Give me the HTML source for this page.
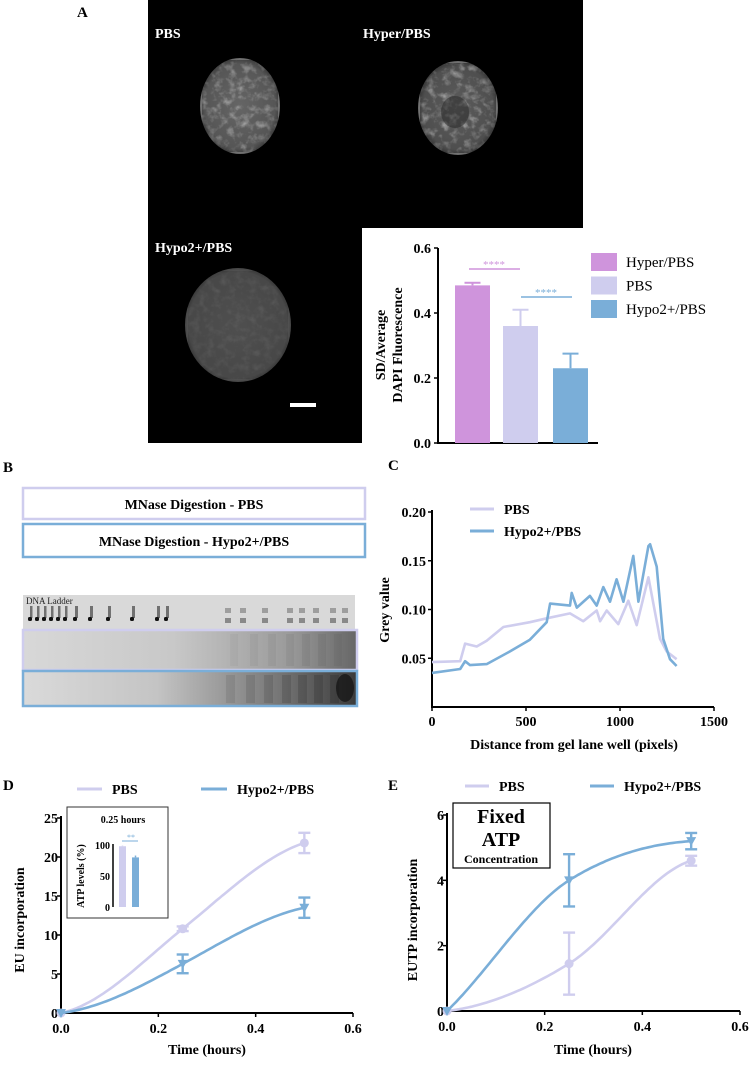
<!DOCTYPE html>
<html><head><meta charset="utf-8"><style>
html,body{margin:0;padding:0;background:#fff;}
svg text{font-family:"Liberation Serif",serif;font-weight:bold;}
</style></head><body>
<svg id="fig" width="749" height="1060" viewBox="0 0 749 1060" xmlns="http://www.w3.org/2000/svg">
<defs>
<filter id="tex" x="0" y="0" width="100%" height="100%">
<feTurbulence type="fractalNoise" baseFrequency="0.14" numOctaves="3" seed="4"/>
<feColorMatrix type="matrix" values="0 0 0 0 0  0 0 0 0 0  0 0 0 0 0  1.2 1.2 1.2 0 -0.9"/>
</filter>
<radialGradient id="nucG" cx="50%" cy="50%" r="55%"><stop offset="0" stop-color="#aaa"/><stop offset="0.8" stop-color="#909090"/><stop offset="1" stop-color="#444"/></radialGradient>
<radialGradient id="nucD" cx="50%" cy="50%" r="55%"><stop offset="0" stop-color="#5e5e5e"/><stop offset="0.85" stop-color="#555"/><stop offset="1" stop-color="#2a2a2a"/></radialGradient>
<linearGradient id="lane" x1="0" x2="1" y1="0" y2="0"><stop offset="0" stop-color="#d8d8d8"/><stop offset="0.45" stop-color="#c8c8c8"/><stop offset="0.8" stop-color="#9a9a9a"/><stop offset="1" stop-color="#666"/></linearGradient>
<linearGradient id="lane2" x1="0" x2="1" y1="0" y2="0"><stop offset="0" stop-color="#dadada"/><stop offset="0.4" stop-color="#c4c4c4"/><stop offset="0.75" stop-color="#7a7a7a"/><stop offset="1" stop-color="#3a3a3a"/></linearGradient>
</defs>

<text x="77" y="17" font-size="15">A</text>
<g>
<rect x="148" y="0" width="435" height="228" fill="#000"/>
<rect x="148" y="228" width="214" height="215" fill="#000"/>
<g>
<ellipse cx="240" cy="106" rx="40" ry="48" fill="url(#nucG)"/>
<ellipse cx="240" cy="106" rx="38" ry="46" fill="#fff" filter="url(#tex)" opacity="0.4"/>
</g>
<g>
<ellipse cx="458" cy="108" rx="40" ry="47" fill="url(#nucG)"/>
<ellipse cx="458" cy="108" rx="38" ry="45" fill="#fff" filter="url(#tex)" opacity="0.45"/>
<ellipse cx="455" cy="112" rx="14" ry="16" fill="#222" opacity="0.45"/>
</g>
<g>
<ellipse cx="238" cy="325" rx="53" ry="57" fill="url(#nucD)"/>
<ellipse cx="238" cy="325" rx="50" ry="54" fill="#888" filter="url(#tex)" opacity="0.15"/>
</g>
<text x="155" y="38" font-size="14" fill="#fff">PBS</text>
<text x="363" y="38" font-size="14" fill="#fff">Hyper/PBS</text>
<text x="155" y="252" font-size="14" fill="#fff">Hypo2+/PBS</text>
<rect x="290" y="403" width="26" height="4" fill="#fff"/>
</g>
<g id="barA"></g>

<text x="3" y="472" font-size="15">B</text>
<rect x="23" y="488" width="342" height="31" fill="#fff" stroke="#cfcdee" stroke-width="2.5"/>
<text x="194" y="509" font-size="14" text-anchor="middle">MNase Digestion - PBS</text>
<rect x="23" y="524" width="342" height="33" fill="#fff" stroke="#7aaed8" stroke-width="2.5"/>
<text x="194" y="546" font-size="14" text-anchor="middle">MNase Digestion - Hypo2+/PBS</text>
<g id="gel">
<rect x="23" y="595" width="332" height="34" fill="#d9d9d9"/>
<rect x="23" y="629" width="334" height="41" fill="url(#lane)"/>
<rect x="23" y="670" width="334" height="37" fill="url(#lane2)"/>
<rect x="23" y="630" width="334" height="40" fill="none" stroke="#cfcdee" stroke-width="2.5"/>
<rect x="23" y="671" width="334" height="35" fill="none" stroke="#7aaed8" stroke-width="2.5"/>
<text x="26" y="604" font-size="9" style="font-weight:normal" fill="#222">DNA Ladder</text>
</g>

<text x="388" y="470" font-size="15">C</text>
<g id="chartC"></g>

<text x="3" y="790" font-size="15">D</text>
<g id="chartD"></g>

<text x="388" y="790" font-size="15">E</text>
<g id="chartE"></g>
</svg>
<script>
const barCats = ["Hyper/PBS","PBS","Hypo2+/PBS"];
const barVals = [0.485, 0.36, 0.23];
const barErr = [0.008, 0.05, 0.045];
const barTicks = [0.0, 0.2, 0.4, 0.6];

const cPbsX = [0,150,176,238,291,380,521,610,734,805,876,894,929,991,1044,1089,1151,1213,1248,1301];
const cPbsY = [0.046,0.047,0.065,0.062,0.068,0.082,0.087,0.091,0.096,0.088,0.099,0.088,0.099,0.085,0.109,0.084,0.133,0.070,0.057,0.049];
const cHypX = [0,150,176,202,291,415,521,610,628,734,743,770,840,876,911,947,982,1018,1071,1098,1151,1160,1195,1230,1266,1301];
const cHypY = [0.035,0.039,0.047,0.043,0.044,0.057,0.069,0.087,0.106,0.104,0.117,0.102,0.114,0.104,0.123,0.108,0.131,0.108,0.155,0.108,0.165,0.167,0.144,0.070,0.049,0.042];
const cXTicks = [0,500,1000,1500];
const cYTicks = [0.05,0.10,0.15,0.20];

const dTime = [0, 0.25, 0.5];
const dPbs = [0, 10.8, 21.8];
const dPbsErr = [0, 0.3, 1.3];
const dHypo = [0, 6.3, 13.5];
const dHypoErr = [0, 1.2, 1.3];
const dYTicks = [0,5,10,15,20,25];
const tTicks = [0.0,0.2,0.4,0.6];
const insetVals = [98, 80];
const insetErr = [1, 3];
const insetTicks = [0,50,100];

const eTime = [0, 0.25, 0.5];
const ePbs = [0, 1.45, 4.6];
const ePbsErr = [0, 0.95, 0.15];
const eHypo = [0, 4.0, 5.2];
const eHypoErr = [0, 0.8, 0.25];
const eYTicks = [0,2,4,6];

const LAV="#cfcdee", BLUE="#7aaed8", PINK="#cf94dc";
const NS="http://www.w3.org/2000/svg";
function mk(p,tag,at,txt){const e=document.createElementNS(NS,tag);for(const k in at)e.setAttribute(k,at[k]);if(txt!==undefined)e.textContent=txt;p.appendChild(e);return e;}
function lin(d0,d1,r0,r1){return v=>r0+(v-d0)/(d1-d0)*(r1-r0);}
// Hermite spline with shaped end slopes (fa = start slope factor, fb = end slope factor, fm = mid factor)
function herm(xs,ys,fa,fm,fb){const n=xs.length,d=[],m=[];for(let i=0;i<n-1;i++)d.push((ys[i+1]-ys[i])/(xs[i+1]-xs[i]));
m[0]=d[0]*fa;m[n-1]=d[n-2]*fb;for(let i=1;i<n-1;i++)m[i]=(d[i-1]+d[i])/2*fm;
return x=>{let i=0;while(i<n-2&&x>xs[i+1])i++;const h=xs[i+1]-xs[i],t=(x-xs[i])/h,t2=t*t,t3=t2*t;
return (2*t3-3*t2+1)*ys[i]+(t3-2*t2+t)*h*m[i]+(-2*t3+3*t2)*ys[i+1]+(t3-t2)*h*m[i+1];};}

(function(){
const g=document.getElementById('barA');
const y=lin(0,0.6,443,248);
const xs=[455,503,553], w=35;
mk(g,'line',{x1:438,y1:248,x2:438,y2:443,stroke:'#000','stroke-width':2});
mk(g,'line',{x1:437,y1:443,x2:598,y2:443,stroke:'#000','stroke-width':2});
barTicks.forEach(t=>{mk(g,'line',{x1:434,y1:y(t),x2:438,y2:y(t),stroke:'#000','stroke-width':1.5});
const tl=mk(g,'text',{x:431,y:y(t)+5,'font-size':14,'text-anchor':'end'},t.toFixed(1));

});
const cols=[PINK,LAV,BLUE];
barVals.forEach((v,i)=>{const r=mk(g,'rect',{x:xs[i],y:y(v),width:w,height:443-y(v),fill:cols[i]});


const cx=xs[i]+w/2;mk(g,'line',{x1:cx,y1:y(v),x2:cx,y2:y(v+barErr[i]),stroke:cols[i],'stroke-width':2});
mk(g,'line',{x1:cx-8,y1:y(v+barErr[i]),x2:cx+8,y2:y(v+barErr[i]),stroke:cols[i],'stroke-width':2});});
mk(g,'line',{x1:469,y1:269,x2:520,y2:269,stroke:PINK,'stroke-width':1.5});
mk(g,'text',{x:494,y:268,'font-size':11,'text-anchor':'middle',fill:PINK,style:'font-weight:normal'},'****');
mk(g,'line',{x1:521,y1:297,x2:572,y2:297,stroke:BLUE,'stroke-width':1.5});
mk(g,'text',{x:546,y:296,'font-size':11,'text-anchor':'middle',fill:BLUE,style:'font-weight:normal'},'****');
const yl=mk(g,'text',{transform:'translate(385,345) rotate(-90)','font-size':14,'text-anchor':'middle'},'SD/Average');


mk(g,'text',{transform:'translate(402,345) rotate(-90)','font-size':14,'text-anchor':'middle'},'DAPI Fluorescence');
barCats.forEach((c,i)=>{const ly=253+i*23.5;
const s=mk(g,'rect',{x:591,y:ly,width:26,height:18,fill:cols[i]});


const t=mk(g,'text',{x:626,y:ly+14,'font-size':15,style:'font-weight:normal'},c);

});
})();

(function(){
const g=document.getElementById('gel');
const lad=[30,37,44,51,58,65,75,90,108,132,157,166];
lad.forEach((x,i)=>{const big=i>=6;mk(g,'rect',{x:x,y:606,width:big?3:2.5,height:12,fill:'#444',opacity:0.7});
mk(g,'rect',{x:x-2,y:617,width:4,height:4,rx:1.5,fill:'#111'});});
[228,243,265,290,302,316,333,345].forEach(x=>{mk(g,'rect',{x:x-3,y:608,width:6,height:5,fill:'#777',opacity:0.6});
mk(g,'rect',{x:x-3,y:618,width:6,height:5,fill:'#666',opacity:0.7});});
[230,250,268,286,302,318,334].forEach((x,i)=>{mk(g,'rect',{x:x,y:634,width:8,height:32,fill:'#555',opacity:0.06+i*0.015});
mk(g,'rect',{x:x-4,y:675,width:9,height:28,fill:'#222',opacity:0.1+i*0.025});});
mk(g,'ellipse',{cx:345,cy:688,rx:9,ry:14,fill:'#111',opacity:0.7});
})();

(function(){
const g=document.getElementById('chartC');
const x=lin(0,1500,432,714), y=lin(0,0.2,707,512);
mk(g,'line',{x1:432,y1:510,x2:432,y2:708,stroke:'#000','stroke-width':2});
mk(g,'line',{x1:431,y1:707,x2:714,y2:707,stroke:'#000','stroke-width':2});
cYTicks.forEach(t=>{mk(g,'line',{x1:428,y1:y(t),x2:432,y2:y(t),stroke:'#000','stroke-width':1.5});
const tl=mk(g,'text',{x:426,y:y(t)+5,'font-size':14,'text-anchor':'end'},t.toFixed(2));

});
cXTicks.forEach(t=>{mk(g,'line',{x1:x(t),y1:707,x2:x(t),y2:711,stroke:'#000','stroke-width':1.5});
const tl=mk(g,'text',{x:x(t),y:726,'font-size':14,'text-anchor':'middle'},t);

});
function path(xs,ys,col,name){let d='';xs.forEach((v,i)=>{d+=(i?'L':'M')+x(v).toFixed(1)+','+y(ys[i]).toFixed(1);});
const p=mk(g,'path',{d:d,fill:'none',stroke:col,'stroke-width':2.6,'stroke-linejoin':'round'});

}
path(cPbsX,cPbsY,LAV,'line-pbs');path(cHypX,cHypY,BLUE,'line-hypo');
const xt=mk(g,'text',{x:574,y:749,'font-size':14,'text-anchor':'middle'},'Distance from gel lane well (pixels)');


const yt=mk(g,'text',{transform:'translate(389,610) rotate(-90)','font-size':14,'text-anchor':'middle'},'Grey value');


mk(g,'line',{x1:470,y1:509,x2:494,y2:509,stroke:LAV,'stroke-width':3});
const l1=mk(g,'text',{x:504,y:514,'font-size':14},'PBS');


mk(g,'line',{x1:470,y1:531,x2:494,y2:531,stroke:BLUE,'stroke-width':3});
const l2=mk(g,'text',{x:504,y:536,'font-size':14},'Hypo2+/PBS');


})();

function timeChart(g,x,y,x0,x1,y0,y1,yTicks,series){
mk(g,'line',{x1:x0,y1:y1-2,x2:x0,y2:y0+1,stroke:'#000','stroke-width':2});
mk(g,'line',{x1:x0-1,y1:y0,x2:x1,y2:y0,stroke:'#000','stroke-width':2});
yTicks.forEach(t=>{mk(g,'line',{x1:x0-4,y1:y(t),x2:x0,y2:y(t),stroke:'#000','stroke-width':1.5});
const tl=mk(g,'text',{x:x0-3,y:y(t)+5,'font-size':14,'text-anchor':'end'},t);

});
tTicks.forEach(t=>{mk(g,'line',{x1:x(t),y1:y0,x2:x(t),y2:y0+4,stroke:'#000','stroke-width':1.5});
const tl=mk(g,'text',{x:x(t),y:y0+20,'font-size':14,'text-anchor':'middle'},t.toFixed(1));

});
series.forEach(s=>{const f=herm(s.t,s.v,s.fa,s.fm,s.fb);let d='';
for(let i=0;i<=80;i++){const tt=s.t[0]+(s.t[s.t.length-1]-s.t[0])*i/80;d+=(i?'L':'M')+x(tt).toFixed(1)+','+y(f(tt)).toFixed(1);}
const p=mk(g,'path',{d:d,fill:'none',stroke:s.col,'stroke-width':2.6});


s.t.forEach((tt,i)=>{const cx=x(tt),cy=y(s.v[i]),e=s.e[i];
if(e>0){mk(g,'line',{x1:cx,y1:y(s.v[i]-e),x2:cx,y2:y(s.v[i]+e),stroke:s.col,'stroke-width':2.4});
[s.v[i]-e,s.v[i]+e].forEach(v=>mk(g,'line',{x1:cx-6,y1:y(v),x2:cx+6,y2:y(v),stroke:s.col,'stroke-width':2.4}));}
let m;if(s.mark==='c')m=mk(g,'circle',{cx:cx,cy:cy,r:4.5,fill:s.col});
else m=mk(g,'path',{d:`M${cx-5},${cy-4}L${cx+5},${cy-4}L${cx},${cy+5}Z`,fill:s.col});

});});
}

(function(){
const g=document.getElementById('chartD');
const x=lin(0,0.6,61,353), y=lin(0,25,1013,818);
timeChart(g,x,y,61,353,1013,818,dYTicks,[
{t:dTime,v:dPbs,e:dPbsErr,col:LAV,mark:'c',name:'line-pbs',fa:0.3,fm:1.15,fb:0.45},
{t:dTime,v:dHypo,e:dHypoErr,col:BLUE,mark:'t',name:'line-hypo',fa:0.3,fm:1.25,fb:0.45}]);
const xt=mk(g,'text',{x:207,y:1054,'font-size':14,'text-anchor':'middle'},'Time (hours)');


const yt=mk(g,'text',{transform:'translate(24,920) rotate(-90)','font-size':14,'text-anchor':'middle'},'EU incorporation');


mk(g,'line',{x1:77,y1:789,x2:102,y2:789,stroke:LAV,'stroke-width':3});
const l1=mk(g,'text',{x:112,y:794,'font-size':14},'PBS');


mk(g,'line',{x1:201,y1:789,x2:227,y2:789,stroke:BLUE,'stroke-width':3});
const l2=mk(g,'text',{x:237,y:794,'font-size':14},'Hypo2+/PBS');


const ib=mk(g,'rect',{x:67,y:807,width:101,height:111,fill:'#fff',stroke:'#333','stroke-width':1});


mk(g,'text',{x:123,y:823,'font-size':10,'text-anchor':'middle'},'0.25 hours');
const iy=lin(0,100,907,845);
mk(g,'line',{x1:113,y1:844,x2:113,y2:907,stroke:'#000','stroke-width':1.5});
insetTicks.forEach(t=>{mk(g,'text',{x:110,y:iy(t)+4,'font-size':10,'text-anchor':'end'},t);});
const ic=[LAV,BLUE],ix=[119,132];
insetVals.forEach((v,i)=>{const r=mk(g,'rect',{x:ix[i],y:iy(v),width:7,height:907-iy(v),fill:ic[i]});


mk(g,'line',{x1:ix[i]+3.5,y1:iy(v),x2:ix[i]+3.5,y2:iy(v+insetErr[i]),stroke:ic[i],'stroke-width':1.5});});
mk(g,'line',{x1:122,y1:841,x2:138,y2:841,stroke:BLUE,'stroke-width':1});
mk(g,'text',{x:131,y:840,'font-size':8,'text-anchor':'middle',fill:BLUE,style:'font-weight:normal'},'**');
mk(g,'text',{transform:'translate(84,876) rotate(-90)','font-size':10,'text-anchor':'middle'},'ATP levels (%)');
})();

(function(){
const g=document.getElementById('chartE');
const x=lin(0,0.6,447,740), y=lin(0,6,1011,815);
timeChart(g,x,y,447,740,1011,815,eYTicks,[
{t:eTime,v:ePbs,e:ePbsErr,col:LAV,mark:'c',name:'line-pbs',fa:0.3,fm:1.0,fb:0.35},
{t:eTime,v:eHypo,e:eHypoErr,col:BLUE,mark:'t',name:'line-hypo',fa:0.9,fm:0.9,fb:0.2}]);
const xt=mk(g,'text',{x:593,y:1054,'font-size':14,'text-anchor':'middle'},'Time (hours)');


const yt=mk(g,'text',{transform:'translate(417,920) rotate(-90)','font-size':14,'text-anchor':'middle'},'EUTP incorporation');


mk(g,'line',{x1:465,y1:786,x2:489,y2:786,stroke:LAV,'stroke-width':3});
const l1=mk(g,'text',{x:499,y:791,'font-size':14},'PBS');


mk(g,'line',{x1:590,y1:786,x2:614,y2:786,stroke:BLUE,'stroke-width':3});
const l2=mk(g,'text',{x:624,y:791,'font-size':14},'Hypo2+/PBS');


const b=mk(g,'rect',{x:453,y:803,width:97,height:65,fill:'#fff',stroke:'#000','stroke-width':1.2});


mk(g,'text',{x:501,y:823,'font-size':20,'text-anchor':'middle'},'Fixed');
mk(g,'text',{x:501,y:846,'font-size':20,'text-anchor':'middle'},'ATP');
mk(g,'text',{x:501,y:863,'font-size':12,'text-anchor':'middle'},'Concentration');
})();
</script>
</body></html>
